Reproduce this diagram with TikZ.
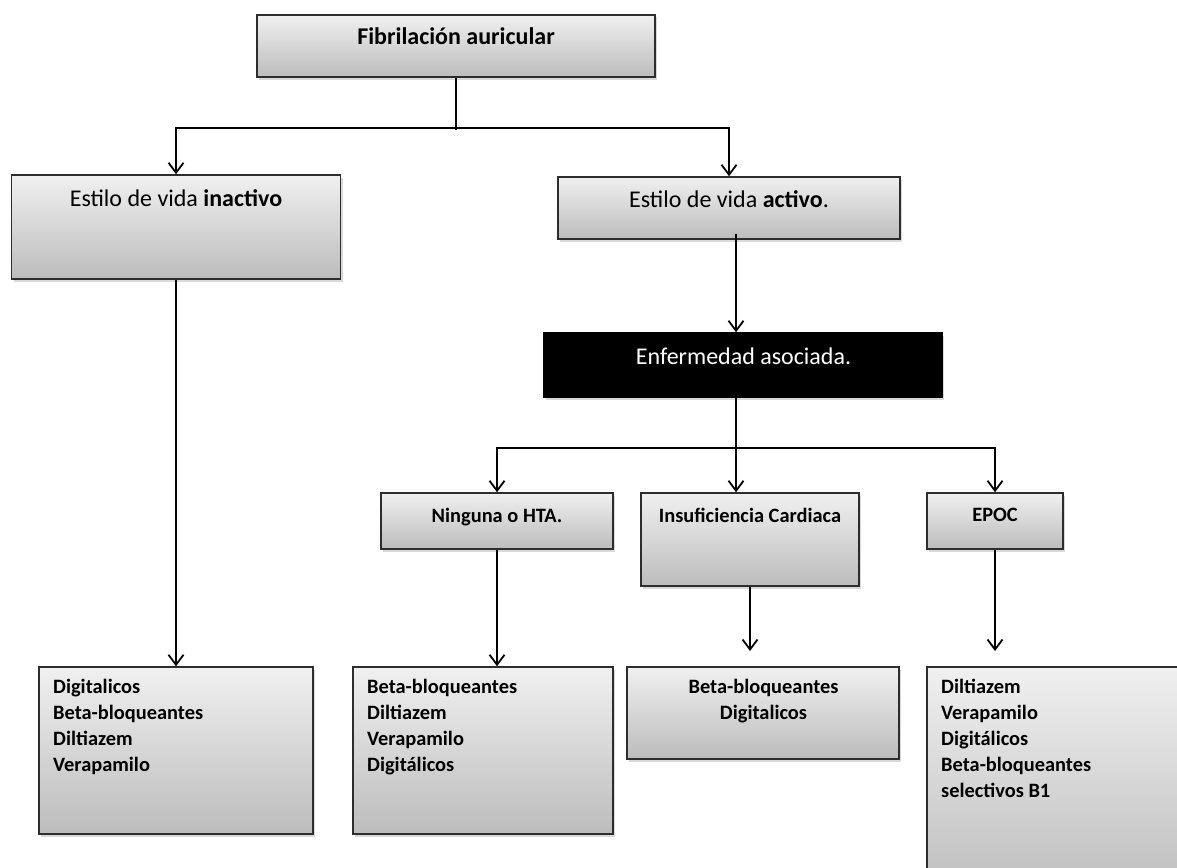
\documentclass[tikz,border=0pt]{standalone}
\usepackage{fontspec}
\setmainfont{Carlito}
\usetikzlibrary{arrows.meta,shadows}

\definecolor{shadeTop}{RGB}{240,240,240}
\definecolor{shadeBot}{RGB}{188,188,188}
\definecolor{edge}{RGB}{45,45,45}

\tikzset{
  panel/.style={draw=edge, line width=1.5pt, top color=shadeTop, bottom color=shadeBot,
    inner sep=0pt, drop shadow={shadow xshift=2pt, shadow yshift=-2.5pt, opacity=0.3}},
  darkpanel/.style={draw=black, fill=black, line width=1.5pt, inner sep=0pt,
    drop shadow={shadow xshift=2pt, shadow yshift=-2.5pt, opacity=0.3}},
  link/.style={draw=black, line width=1.8pt},
  flow/.style={link, -{Straight Barb[length=10pt,width=15pt]}},
  head/.style={font=\fontsize{24}{29}\selectfont, anchor=base, inner sep=0pt},
  sub/.style={font=\bfseries\fontsize{20.4}{26}\selectfont, anchor=base, inner sep=0pt},
  druglist/.style={font=\bfseries\fontsize{20.4}{26}\selectfont, inner sep=0pt},
}

\begin{document}
\begin{tikzpicture}[x=1pt, y=-1pt]
  \useasboundingbox (0,0) rectangle (1177,867);
  \clip (0,0) rectangle (1177,867);

  % boxes
  \node[panel, minimum width=398pt, minimum height=62pt]  (fib)  at (456,46) {};
  \node[panel, minimum width=329pt, minimum height=104pt] (inac) at (176,227) {};
  \node[panel, minimum width=342pt, minimum height=62pt]  (act)  at (729,208) {};
  \node[darkpanel, minimum width=398pt, minimum height=64pt] (enf) at (743,365) {};
  \node[panel, minimum width=232pt, minimum height=56pt]  (nin)  at (497,521) {};
  \node[panel, minimum width=218pt, minimum height=93pt]  (ins)  at (750,539.5) {};
  \node[panel, minimum width=136pt, minimum height=56pt]  (epoc) at (995,521) {};
  \node[panel, minimum width=274pt, minimum height=167pt] (d1)   at (176,750.5) {};
  \node[panel, minimum width=260pt, minimum height=167pt] (d2)   at (483,750.5) {};
  \node[panel, minimum width=272pt, minimum height=92pt]  (d3)   at (763,713) {};
  \node[panel, minimum width=273pt, minimum height=233pt] (d4)   at (1063.5,783.5) {};

  % labels
  \node[head, font=\bfseries\fontsize{24}{29}\selectfont] (fib-t) at (456,45) {Fibrilación auricular};
  \node[head] (inac-t) at (176,206) {Estilo de vida \textbf{inactivo}};
  \node[head] (act-t)  at (729,207)  {Estilo de vida \textbf{activo}.};
  \node[head, text=white] (enf-t) at (743.5,364) {Enfermedad asociada.};
  \node[sub] (nin-t)  at (497,522) {Ninguna o HTA.};
  \node[sub] (ins-t)  at (750,522) {Insuficiencia Cardiaca};
  \node[sub] (epoc-t) at (995,521) {EPOC};

  \node[druglist, anchor=north west, align=left] (d1-t) at (53,675)
    {\rule{0pt}{18pt}Digitalicos\\Beta-bloqueantes\\Diltiazem\\Verapamilo};
  \node[druglist, anchor=north west, align=left] (d2-t) at (367,675)
    {\rule{0pt}{18pt}Beta-bloqueantes\\Diltiazem\\Verapamilo\\Digitálicos};
  \node[druglist, anchor=north, align=center] (d3-t) at (763.5,675)
    {\rule{0pt}{18pt}Beta-bloqueantes\\Digitalicos};
  \node[druglist, anchor=north west, align=left] (d4-t) at (941,675)
    {\rule{0pt}{18pt}Diltiazem\\Verapamilo\\Digitálicos\\Beta-bloqueantes\\selectivos B1};

  % connectors
  \coordinate (s1) at (456,128);
  \draw[link] (fib.south) -- ([yshift=-2pt]s1);
  \draw[flow] (s1) -| (inac.north);
  \draw[flow] (s1) -| (act.north);

  \draw[flow] ([xshift=7pt,yshift=6pt]act.south) -- ([xshift=-7pt]enf.north);

  \coordinate (s2) at (736,448);
  \draw[flow] ([xshift=-7pt]enf.south) -- ([xshift=-14pt]ins.north);
  \draw[flow] (s2) -| (nin.north);
  \draw[flow] (s2) -| (epoc.north);

  \draw[flow] (inac.south) -- (d1.north);
  \draw[flow] (nin.south) -- (nin.south |- d2.north);
  \coordinate (t3) at (750,651);
  \draw[flow] (ins.south) -- (t3);
  \coordinate (t4) at (995,651);
  \draw[flow] (epoc.south) -- (t4);
\end{tikzpicture}
\end{document}
